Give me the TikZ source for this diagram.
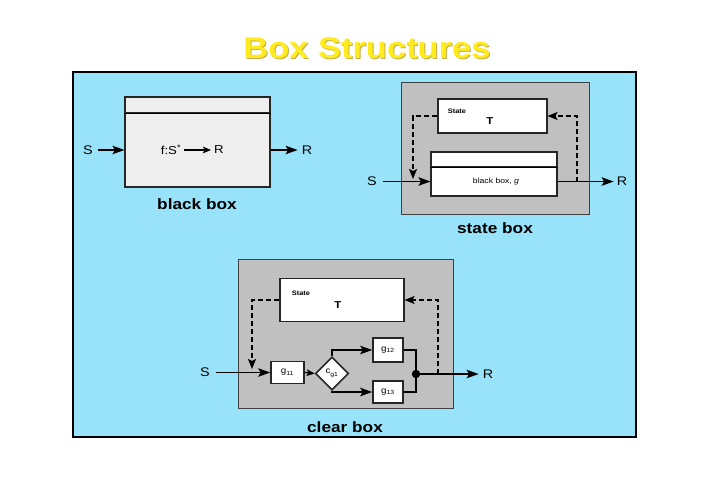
\documentclass[tikz,border=0pt]{standalone}
\usepackage{graphicx}
\usepackage{fontspec}
\setmainfont[FakeStretch=1.15]{Liberation Sans}
\usetikzlibrary{arrows.meta,shapes.geometric,calc}
\definecolor{panel}{RGB}{152,226,250}
\definecolor{boxgray}{RGB}{192,192,192}
\definecolor{lightbox}{RGB}{238,238,238}
\definecolor{titleyellow}{RGB}{255,235,30}
\definecolor{titleshadow}{RGB}{195,175,80}
\begin{document}
\begin{tikzpicture}[x=1pt,y=-1pt,
  lbl/.style={font=\fontsize{12.5}{12.5}\selectfont, inner sep=0pt},
  capt/.style={font=\fontsize{15}{15}\selectfont\bfseries, inner sep=0pt},
  small/.style={font=\fontsize{6.5}{7}\selectfont\bfseries, inner sep=0pt},
  bigT/.style={font=\fontsize{10}{10}\selectfont\bfseries, inner sep=0pt},
  arr/.style={line width=1.3pt, -{Stealth[length=12pt,width=8.5pt,inset=2.5pt]}},
  sarr/.style={line width=1.3pt, -{Stealth[length=8pt,width=6.5pt,inset=1.5pt]}},
  plain/.style={line width=1.3pt},
  dsh/.style={line width=1.5pt, dash pattern=on 5pt off 3pt, -{Stealth[length=10pt,width=8pt,inset=2pt]}},
  strip/.style={line width=1.8pt},
  gpanel/.style={draw=black!75, fill=boxgray, line width=0.9pt, inner sep=0pt, minimum width=#1},
  wbox/.style={draw=black!85, fill=white, line width=1.1pt, inner sep=0pt},
  gnode/.style={wbox, line width=1.6pt, font=\fontsize{8.5}{8.5}\selectfont},
]
\useasboundingbox (0,0) rectangle (720,480);
\fill[white] (0,0) rectangle (720,480);
% title
\node[font=\fontsize{30}{30}\selectfont\bfseries, text=titleshadow] (tshadow) at (368,49) {Box Structures};
\node[font=\fontsize{30}{30}\selectfont\bfseries, text=titleyellow] (title) at (367,48) {Box Structures};
% blue panel
\node[draw=black, line width=1.8pt, fill=panel, minimum width=563, minimum height=365, inner sep=0pt] (panelbox) at (354.5,254.5) {};

% ---------- black box ----------
\node[wbox, fill=lightbox, minimum width=145, minimum height=16] (bbt) at (197.5,105) {};
\node[wbox, fill=lightbox, minimum width=145, minimum height=74] (bb) at (197.5,150) {};
\draw[strip] (bbt.south west) -- (bbt.south east);
\node[font=\fontsize{11.5}{11.5}\selectfont, inner sep=0pt] (fs) at (171,150) {f:S\textsuperscript{*}};
\node[font=\fontsize{11.5}{11.5}\selectfont, inner sep=0pt] (fr) at (219,150) {R};
\draw[sarr] (fs.east) ++(3,0) coordinate (fsx) -- ($(fr.west)+(-3,0)$);
\node[lbl] (S0) at (88,150) {S};
\node[lbl] (R0) at (307,150) {R};
\draw[arr] (S0.east) ++(5,0) -- (bb.west);
\draw[arr] (bb.east) -- ($(R0.west)+(-4,0)$);
\node[capt] (cap1) at (197,204) {black box};

% ---------- state box ----------
\node[gpanel=188, minimum height=132] (sb) at (495,148) {};
\node[wbox, minimum width=109, minimum height=34] (st1) at (492.5,116) {};
\node[small] (st1l) at (457,111) {State};
\node[bigT] (st1T) at (490,121) {T};
\node[wbox, minimum width=126, minimum height=15] (bgt) at (494,159.5) {};
\node[wbox, minimum width=126, minimum height=29, font=\fontsize{7.5}{8}\selectfont] (bg) at (494,181.5) {\hspace*{4pt}black box, \textit{g}};
\draw[strip] (bgt.south west) -- (bgt.south east);
\node[lbl] (S1) at (372,181.5) {S};
\node[lbl] (R1) at (622,181.5) {R};
\draw[arr] (S1.east) ++(6,0) -- (bg.west);
\draw[arr] (bg.east) -- ($(R1.west)+(-3,0)$);
\coordinate (d1) at (413,179);
\draw[dsh] (st1.west) -| (d1);
\coordinate (d2) at (577,181.5);
\draw[dsh] (d2) |- (st1.east);
\node[capt] (cap2) at (495,228) {state box};

% ---------- clear box ----------
\node[gpanel=215, minimum height=149] (cb) at (345.5,333.5) {};
\node[wbox, minimum width=124, minimum height=43] (st2) at (342,300) {};
\node[small] (st2l) at (301,293) {State};
\node[bigT] (st2T) at (338,305) {T};
\node[gnode, minimum width=33, minimum height=22] (g11) at (287.5,372.5) {g\textsubscript{11}};
\node[wbox, line width=1.6pt, diamond, aspect=1, minimum width=33, minimum height=33, font=\fontsize{8.5}{8.5}\selectfont] (cg) at (332,373.5) {\raisebox{2pt}{c}\textsubscript{g1}};
\node[gnode, minimum width=30, minimum height=24] (g12) at (388,350) {g\textsubscript{12}};
\node[gnode, minimum width=30, minimum height=22] (g13) at (388,392) {g\textsubscript{13}};
\node[circle, fill=black, minimum size=8.5pt, inner sep=0pt] (dot) at (416,374) {};
\node[lbl] (S2) at (205,372.5) {S};
\node[lbl] (R2) at (488,374) {R};
\draw[arr] (S2.east) ++(6,0) -- (S2 -| g11.west);
\draw[sarr] (g11.east) -- (cg.west);
\draw[arr] (cg.north) |- (g12.west);
\draw[arr] (cg.south) |- (g13.west);
\draw[plain] (g12.east) -| (dot.north);
\draw[plain] (g13.east) -| (dot.south);
\draw[arr] (dot.east) -- ($(dot -| R2.west)+(-4,0)$);
\coordinate (d3) at (252,369);
\draw[dsh] (st2.west) -| (d3);
\coordinate (d4) at (438,374);
\draw[dsh] (d4) |- (st2.east);
\node[capt] (cap3) at (345,427) {clear box};
\end{tikzpicture}
\end{document}
